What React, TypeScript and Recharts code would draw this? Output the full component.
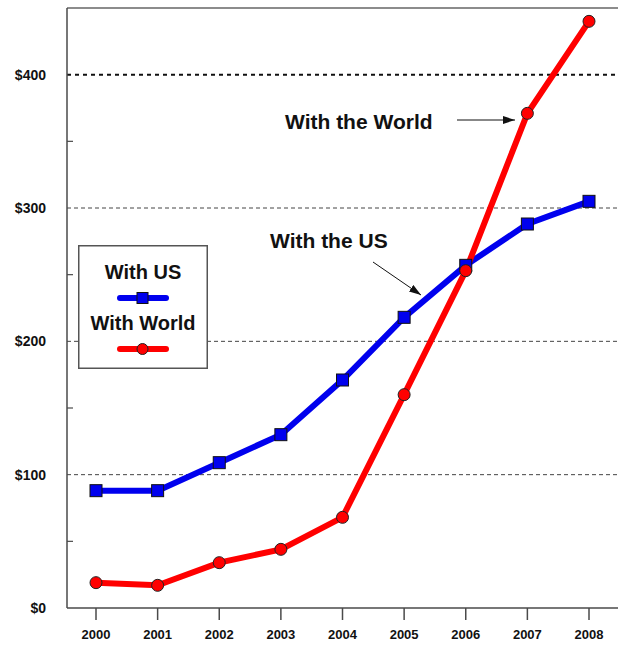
import { LineChart, Line, XAxis, YAxis, ReferenceLine, Legend } from 'recharts';

const years = [2000, 2001, 2002, 2003, 2004, 2005, 2006, 2007, 2008];
const withUS = [88, 88, 109, 130, 171, 218, 257, 288, 305];
const withWorld = [19, 17, 34, 44, 68, 160, 253, 371, 440];
const yTicks = [0, 50, 100, 150, 200, 250, 300, 350, 400];
const gridValues = [100, 200, 300];

const data = years.map((year, i) => ({ year, us: withUS[i], world: withWorld[i] }));

const FONT = '"Liberation Sans", Arial, sans-serif';
const AXIS = '#4a4a4a';

const SquareDot = (props: any) => {
    const { cx, cy } = props;
    if (cx == null || cy == null) return null;
    return <rect x={cx - 6} y={cy - 6} width={12} height={12} fill="#0000ee" stroke="#111" strokeWidth={1} />;
};

const CircleDot = (props: any) => {
    const { cx, cy } = props;
    if (cx == null || cy == null) return null;
    return <circle cx={cx} cy={cy} r={6} fill="#ff0000" stroke="#222" strokeWidth={1} />;
};

const YTick = (props: any) => {
    const { x, y, payload } = props;
    const v = payload.value;
    if (v % 100 !== 0) {
        return <line x1={x + 21} x2={x + 27} y1={y} y2={y} stroke={AXIS} strokeWidth={1.2} />;
    }
    return (
        <text x={x} y={y} dy="0.355em" textAnchor="end" fontFamily={FONT} fontWeight="bold" fontSize={14} fill="#111">
            ${v}
        </text>
    );
};

const LegendBox = (props: any) => {
    const items = props.payload || [];
    return (
        <svg width={130} height={124} style={{ display: 'block' }}>
            <rect x={0.75} y={0.75} width={128.5} height={122.5} fill="#fff" stroke="#555" strokeWidth={1.5} />
            {items.map((item: any, i: number) => {
                const base = i * 51;
                const isUS = item.dataKey === 'us';
                return (
                    <g key={item.value}>
                        <text x={65} y={base + 34} textAnchor="middle" fontFamily={FONT} fontWeight="bold" fontSize={20} fill="#111">
                            {item.value}
                        </text>
                        <line x1={42} x2={88} y1={base + 53} y2={base + 53} stroke={item.color} strokeWidth={6} strokeLinecap="round" />
                        {isUS ? (
                            <rect x={59} y={base + 47.5} width={11} height={11} fill="#0000ee" stroke="#111" strokeWidth={1} />
                        ) : (
                            <circle cx={64.5} cy={base + 53} r={5.5} fill="#ff0000" stroke="#222" strokeWidth={1} />
                        )}
                    </g>
                );
            })}
        </svg>
    );
};

export default function App() {
    return (
        <div style={{ position: 'absolute', left: 0, top: 0, width: 619, height: 645, background: '#fff' }}>
            <LineChart width={619} height={645} data={data} margin={{ top: 8, right: 1, bottom: 0, left: 0 }}>
                <XAxis
                    dataKey="year"
                    type="number"
                    domain={[2000, 2008]}
                    ticks={years}
                    padding={{ left: 29, right: 29 }}
                    height={37}
                    tickSize={12}
                    tickMargin={10}
                    stroke={AXIS}
                    strokeWidth={1.5}
                    tick={{ fontFamily: FONT, fontWeight: 'bold', fontSize: 13, fill: '#111' }}
                    allowDecimals={false}
                />
                <YAxis
                    type="number"
                    domain={[0, 450]}
                    ticks={yTicks}
                    width={67}
                    tickSize={0}
                    tickMargin={21}
                    tickLine={false}
                    stroke={AXIS}
                    strokeWidth={1.5}
                    tick={<YTick />}
                    interval={0}
                />
                {gridValues.map(v => (
                    <ReferenceLine key={v} y={v} stroke="#444" strokeWidth={1} strokeDasharray="4 3" />
                ))}
                <ReferenceLine y={400} stroke="#111" strokeWidth={2} strokeDasharray="4 4" />
                <ReferenceLine y={450} stroke="#666" strokeWidth={1.5} />
                <Legend
                    layout="vertical"
                    align="center"
                    verticalAlign="middle"
                    content={<LegendBox />}
                    wrapperStyle={{ position: 'absolute', left: 78, top: 245, width: 130, height: 124 }}
                />
                <Line
                    name="With US"
                    dataKey="us"
                    stroke="#0000ee"
                    strokeWidth={6}
                    dot={<SquareDot />}
                    activeDot={false}
                    isAnimationActive={false}
                />
                <Line
                    name="With World"
                    dataKey="world"
                    stroke="#ff0000"
                    strokeWidth={6}
                    dot={<CircleDot />}
                    activeDot={false}
                    isAnimationActive={false}
                />
            </LineChart>
            <svg width={619} height={645} style={{ position: 'absolute', left: 0, top: 0, pointerEvents: 'none' }}>
                <defs>
                    <marker id="arrow" markerWidth={12} markerHeight={8} refX={12} refY={4} orient="auto" markerUnits="userSpaceOnUse">
                        <path d="M0,0 L12,4 L0,8 Z" fill="#111" />
                    </marker>
                </defs>
                <text x={285} y={129} fontFamily={FONT} fontWeight="bold" fontSize={21} fill="#111">With the World</text>
                <line x1={457} y1={120} x2={515} y2={120} stroke="#111" strokeWidth={1} markerEnd="url(#arrow)" />
                <text x={270} y={248} fontFamily={FONT} fontWeight="bold" fontSize={21} fill="#111">With the US</text>
                <line x1={373} y1={262} x2={421} y2={295} stroke="#111" strokeWidth={1} markerEnd="url(#arrow)" />
            </svg>
        </div>
    );
}
